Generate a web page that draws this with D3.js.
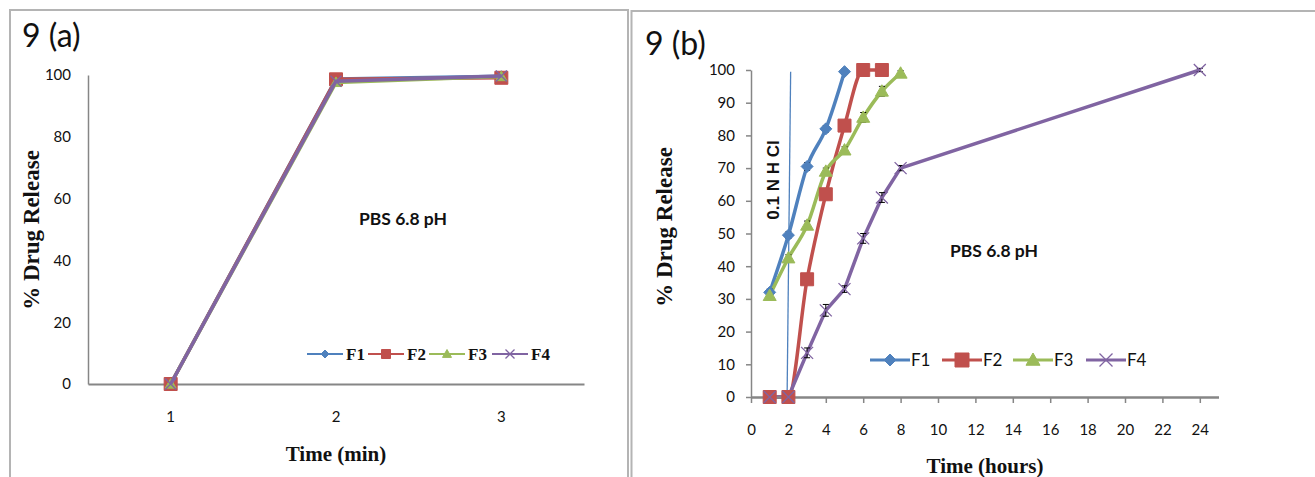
<!DOCTYPE html>
<html>
<head>
<meta charset="utf-8">
<script src="https://d3js.org/d3.v7.min.js"></script>
<style>
  body { margin: 0; background: #fff; }
  svg { display: block; }
</style>
</head>
<body>
<svg id="chart" width="1315" height="477"></svg>
<script>
'use strict';

const names = ['F1', 'F2', 'F3', 'F4'];
const colors = ['#4f81bd', '#c0504d', '#9bbb59', '#8064a2'];
const shapes = ['diamond', 'square', 'triangle', 'x'];

// 9 (a) - PBS 6.8, time in min
const timeA = [1, 2, 3];
const f1A = [0, 98.7, 99.6];
const f2A = [0, 98.6, 99.1];
const f3A = [0, 97.6, 99.5];
const f4A = [0, 98.0, 99.7];
const yTicksA = [0, 20, 40, 60, 80, 100];

// 9 (b) - 0.1 N HCl then PBS 6.8, time in hours
const f1Time = [1, 2, 3, 4, 5];
const f1B = [32, 49.5, 70.5, 82, 99.5];
const f1Err = [1, 1, 1.2, 1, 0.8];
const f2Time = [1, 2, 3, 4, 5, 6, 7];
const f2B = [0, 0, 36, 62, 83, 100, 100];
const f2Err = [0, 0, 1.5, 1.5, 1.2, 0.6, 0.6];
const f3Time = [1, 2, 3, 4, 5, 6, 7, 8];
const f3B = [31, 42.5, 52.5, 69, 75.5, 85.5, 93.5, 99];
const f3Err = [1, 1, 1.3, 1, 1, 1.5, 1.5, 0.8];
const f4Time = [1, 2, 3, 4, 5, 6, 7, 8, 24];
const f4B = [0, 0, 13.5, 26.5, 33, 48.5, 61, 70, 100];
const f4Err = [0, 0, 1.5, 1.8, 1, 1.5, 1.5, 0.8, 0.5];
const hclLine = [[2.12, 99.5], [1.93, 0]];
const yTicksB = [0, 10, 20, 30, 40, 50, 60, 70, 80, 90, 100];
const xTicksB = [0, 2, 4, 6, 8, 10, 12, 14, 16, 18, 20, 22, 24];

const svg = d3.select('#chart');

// outer frames of the two figure parts
svg.append('rect')
   .attr('x', 10).attr('y', 10).attr('width', 618).attr('height', 490)
   .attr('fill', 'none').attr('stroke', '#b4b4b4').attr('stroke-width', 2);
svg.append('rect')
   .attr('x', 631.5).attr('y', 11).attr('width', 720).attr('height', 490)
   .attr('fill', 'none').attr('stroke', '#b4b4b4').attr('stroke-width', 2);

//draws one marker centred on x,y
const marker = function(g, shape, x, y, s, c){
  const h = s / 2;
  let d;
  if (shape == 'diamond') d = `M0,${-h}L${h},0L0,${h}L${-h},0Z`;
  else if (shape == 'square') d = `M${-h},${-h}H${h}V${h}H${-h}Z`;
  else if (shape == 'triangle') d = `M0,${-h}L${h},${h * 0.75}L${-h},${h * 0.75}Z`;
  else d = `M${-h},${-h}L${h},${h}M${h},${-h}L${-h},${h}`;
  g.append('path')
   .attr('transform', `translate(${x},${y})`)
   .attr('d', d)
   .attr('fill', shape == 'x' ? 'none' : c)
   .attr('stroke', c)
   .attr('stroke-width', shape == 'x' ? 1.3 : 1);
};

const styleAxis = function(g, width, font){
  g.attr('font-family', font).attr('font-size', 15);
  g.select('.domain').attr('stroke', '#868686').attr('stroke-width', width);
  g.selectAll('.tick line').attr('stroke', '#868686').attr('stroke-width', 1.5);
  g.selectAll('.tick text').attr('fill', '#111');
};

const text = function(x, y, str, font, size, weight, anchor, rot){
  svg.append('text')
     .attr('transform', `translate(${x},${y})` + (rot ? ` rotate(${rot})` : ''))
     .attr('text-anchor', anchor)
     .attr('font-family', font)
     .attr('font-size', size)
     .attr('font-weight', weight)
     .attr('fill', '#111')
     .text(str);
};

const sans = 'Lato, sans-serif';
const serif = '"Liberation Serif", "Times New Roman", serif';

/* ---------------- 9 (a) ---------------- */
const xA = d3.scaleBand().domain(timeA).range([88, 584]);
const cxA = (t) => xA(t) + xA.bandwidth() / 2;
const yA = d3.scaleLinear().domain([0, 100]).range([384, 75]);

svg.append('g')
   .attr('transform', 'translate(88,0)')
   .call(d3.axisLeft(yA).tickValues(yTicksA).tickSize(0).tickPadding(17))
   .call((g) => styleAxis(g, 1.5, sans));
svg.append('g')
   .attr('transform', 'translate(0,384)')
   .call(d3.axisBottom(xA).tickSize(0).tickPadding(27))
   .call((g) => styleAxis(g, 2, sans));

const gA = svg.append('g');
const sizesA = [11, 13, 11, 11];
[f1A, f2A, f3A, f4A].map((vals, k) => {
  const pts = timeA.map((t, i) => [cxA(t), yA(vals[i])]);
  gA.append('path')
    .attr('d', d3.line()(pts))
    .attr('fill', 'none')
    .attr('stroke', colors[k])
    .attr('stroke-width', 3.5)
    .attr('stroke-linejoin', 'round');
  pts.forEach((p) => marker(gA, shapes[k], p[0], p[1], sizesA[k], colors[k]));
});

text(22, 47, '9 (a)', sans, 32, 'normal', 'start');
text(39, 230, '% Drug Release', serif, 23, 'bold', 'middle', -90);
text(336, 461, 'Time (min)', serif, 21, 'bold', 'middle');
text(403, 225, 'PBS 6.8 pH', sans, 17.5, 'bold', 'middle');

// legend (a)
const legA = [307, 368, 429, 492];
const legSizeA = [8, 9, 9, 9];
names.forEach((n, k) => {
  svg.append('line')
     .attr('x1', legA[k]).attr('x2', legA[k] + 36)
     .attr('y1', 354).attr('y2', 354)
     .attr('stroke', colors[k]).attr('stroke-width', 2);
  marker(svg, shapes[k], legA[k] + 18, 354, legSizeA[k], colors[k]);
  text(legA[k] + 39, 360, n, serif, 17, 'bold', 'start');
});

/* ---------------- 9 (b) ---------------- */
const xB = d3.scaleLinear().domain([0, 25]).range([751, 1218.5]);
const yB = d3.scaleLinear().domain([0, 100]).range([397, 70]);

svg.append('g')
   .attr('transform', 'translate(751,0)')
   .call(d3.axisLeft(yB).tickValues(yTicksB).tickSize(5).tickSizeOuter(0).tickPadding(11))
   .call((g) => styleAxis(g, 1.5, sans));

// HCl / PBS boundary line
svg.append('path')
   .attr('d', d3.line().x((d) => xB(d[0])).y((d) => yB(d[1]))(hclLine))
   .attr('stroke', '#4f81bd').attr('stroke-width', 1.3).attr('fill', 'none');

// F4 has one long 8 -> 24 h step, smoothing would bow it, so it stays straight
const seriesB = [
  {t: f1Time, v: f1B, e: f1Err, curve: d3.curveMonotoneX},
  {t: f2Time, v: f2B, e: f2Err, curve: d3.curveMonotoneX},
  {t: f3Time, v: f3B, e: f3Err, curve: d3.curveMonotoneX},
  {t: f4Time, v: f4B, e: f4Err, curve: d3.curveLinear},
];
const gB = svg.append('g');
seriesB.forEach((s, k) => {
  const lineB = d3.line()
    .x((d) => xB(d[0]))
    .y((d) => yB(d[1]))
    .curve(s.curve);
  gB.append('path')
    .attr('d', lineB(s.t.map((t, i) => [t, s.v[i]])))
    .attr('fill', 'none')
    .attr('stroke', colors[k])
    .attr('stroke-width', 3.5)
    .attr('stroke-linejoin', 'round');
});

// x axis goes over the flat 0% segments, like in the original
svg.append('g')
   .attr('transform', 'translate(0,397)')
   .call(d3.axisBottom(xB).tickValues(xTicksB).tickSize(6).tickSizeOuter(0).tickPadding(21))
   .call((g) => styleAxis(g, 2.5, sans));

// error bars
const gErr = svg.append('g');
seriesB.forEach((s) => {
  s.t.forEach((t, i) => {
    if (!s.e[i]) return;
    const x = xB(t);
    const y1 = yB(s.v[i] - s.e[i]);
    const y2 = yB(s.v[i] + s.e[i]);
    gErr.append('path')
        .attr('d', `M${x},${y1}V${y2}M${x - 3},${y1}H${x + 3}M${x - 3},${y2}H${x + 3}`)
        .attr('stroke', '#000').attr('stroke-width', 1).attr('fill', 'none');
  });
});

// markers on top of the error bars
const gMarks = svg.append('g');
const sizesB = [12, 13, 13, 12];
seriesB.forEach((s, k) => {
  s.t.forEach((t, i) => marker(gMarks, shapes[k], xB(t), yB(s.v[i]), sizesB[k], colors[k]));
});

text(645, 55, '9 (b)', sans, 32, 'normal', 'start');
text(672, 227, '% Drug Release', serif, 23, 'bold', 'middle', -90);
text(985, 473, 'Time (hours)', serif, 21, 'bold', 'middle');
text(994, 257, 'PBS 6.8 pH', sans, 17.5, 'bold', 'middle');
text(779, 180, '0.1 N H Cl', '"Liberation Sans", Arial, sans-serif', 17, 'bold', 'middle', -90);

// legend (b)
const legB = [870, 942, 1013, 1086];
const legSizeB = [12, 14, 14, 13];
names.forEach((n, k) => {
  svg.append('line')
     .attr('x1', legB[k]).attr('x2', legB[k] + 40)
     .attr('y1', 360).attr('y2', 360)
     .attr('stroke', colors[k]).attr('stroke-width', 3);
  marker(svg, shapes[k], legB[k] + 20, 360, legSizeB[k], colors[k]);
  text(legB[k] + 41, 366, n, sans, 17, 'normal', 'start');
});
</script>
</body>
</html>
